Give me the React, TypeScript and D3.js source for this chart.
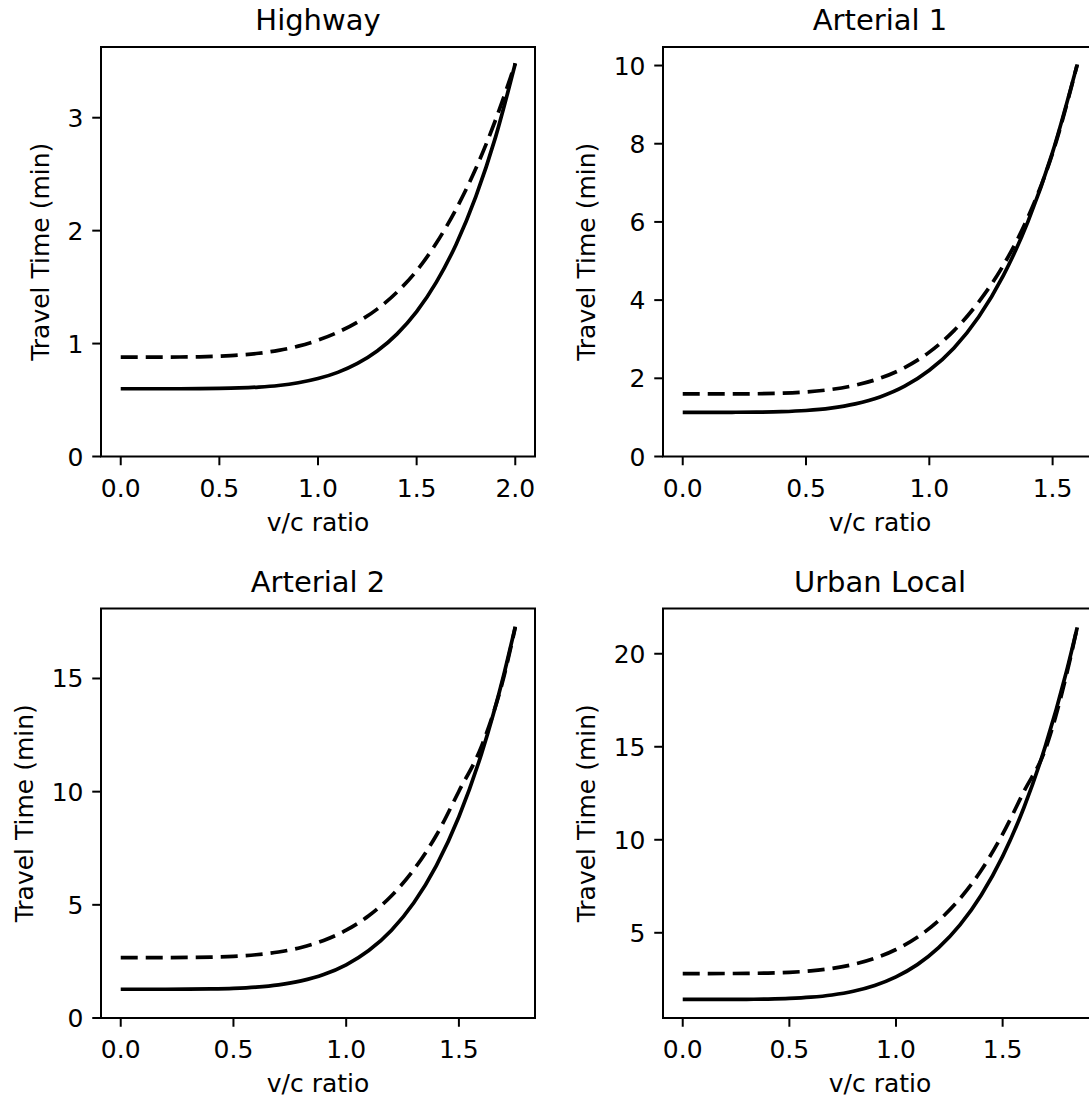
import React from 'react';
import * as d3 from 'd3';

// ---------- data ----------
const panelTitles = ['Highway', 'Arterial 1', 'Arterial 2', 'Urban Local'];

const highwayX = [0, 0.1, 0.2, 0.3, 0.4, 0.5, 0.6, 0.7, 0.8, 0.9, 1.0, 1.1, 1.2, 1.3, 1.4, 1.5, 1.6, 1.7, 1.8, 1.9, 2.0];
const highwaySolid = [0.6, 0.6, 0.6, 0.6, 0.601, 0.603, 0.607, 0.615, 0.629, 0.653, 0.69, 0.745, 0.824, 0.934, 1.084, 1.283, 1.544, 1.878, 2.301, 2.828, 3.48];
const highwayDashed = [0.88, 0.88, 0.88, 0.881, 0.883, 0.889, 0.898, 0.914, 0.94, 0.977, 1.03, 1.1, 1.19, 1.305, 1.455, 1.645, 1.89, 2.19, 2.55, 2.98, 3.482];

const arterial1X = [0, 0.1, 0.2, 0.3, 0.4, 0.5, 0.6, 0.7, 0.8, 0.9, 1.0, 1.1, 1.2, 1.3, 1.4, 1.5, 1.6];
const arterial1Solid = [1.13, 1.13, 1.131, 1.135, 1.147, 1.177, 1.238, 1.346, 1.523, 1.798, 2.204, 2.778, 3.568, 4.626, 6.009, 7.786, 10.029];
const arterial1Dashed = [1.6, 1.6, 1.601, 1.605, 1.619, 1.651, 1.714, 1.824, 2.002, 2.274, 2.67, 3.22, 3.95, 4.89, 6.12, 7.76, 10.027];

const arterial2X = [0, 0.1, 0.2, 0.3, 0.4, 0.5, 0.6, 0.7, 0.8, 0.9, 1.0, 1.1, 1.2, 1.3, 1.4, 1.5, 1.6, 1.7, 1.75];
const arterial2Solid = [1.27, 1.27, 1.27, 1.273, 1.283, 1.308, 1.362, 1.463, 1.638, 1.92, 2.35, 2.979, 3.869, 5.093, 6.735, 8.891, 11.671, 15.201, 17.291];
const arterial2Dashed = [2.67, 2.67, 2.671, 2.676, 2.69, 2.725, 2.795, 2.917, 3.118, 3.427, 3.88, 4.518, 5.393, 6.557, 8.076, 10.019, 12.0, 15.1, 17.263];

const urbanX = [0, 0.1, 0.2, 0.3, 0.4, 0.5, 0.6, 0.7, 0.8, 0.9, 1.0, 1.1, 1.2, 1.3, 1.4, 1.5, 1.6, 1.7, 1.8, 1.85];
const urbanSolid = [1.42, 1.42, 1.421, 1.425, 1.439, 1.471, 1.538, 1.658, 1.857, 2.168, 2.63, 3.288, 4.198, 5.422, 7.032, 9.106, 11.736, 15.02, 19.07, 21.421];
const urbanDashed = [2.81, 2.81, 2.811, 2.817, 2.834, 2.874, 2.95, 3.084, 3.3, 3.626, 4.1, 4.761, 5.656, 6.838, 8.365, 10.305, 12.6, 14.85, 18.9, 21.432];

const highwayYTicks = [0, 1, 2, 3];
const arterial1YTicks = [0, 2, 4, 6, 8, 10];
const arterial2YTicks = [0, 5, 10, 15];
const urbanYTicks = [5, 10, 15, 20];

const highwayXTicks = [0, 0.5, 1.0, 1.5, 2.0];
const arterialXTicks = [0, 0.5, 1.0, 1.5];

const yFloorAtZero = [true, true, true, false];

const xLabel = 'v/c ratio';
const yLabel = 'Travel Time (min)';

// ---------- layout ----------
const W = 1089;
const H = 1099;
const colLeft = [101, 663];
const rowTop = [47, 608.5];
const AX_W = 434;
const AX_H = 409.5;
const FONT = '"DejaVu Sans", sans-serif';
const TICK_FS = 25;
const TITLE_FS = 29;

type PanelData = {
  title: string;
  xs: number[];
  solid: number[];
  dashed: number[];
  yTicks: number[];
  xTicks: number[];
  floorZero: boolean;
};

const panels: PanelData[] = [
  { title: panelTitles[0], xs: highwayX, solid: highwaySolid, dashed: highwayDashed, yTicks: highwayYTicks, xTicks: highwayXTicks, floorZero: yFloorAtZero[0] },
  { title: panelTitles[1], xs: arterial1X, solid: arterial1Solid, dashed: arterial1Dashed, yTicks: arterial1YTicks, xTicks: arterialXTicks, floorZero: yFloorAtZero[1] },
  { title: panelTitles[2], xs: arterial2X, solid: arterial2Solid, dashed: arterial2Dashed, yTicks: arterial2YTicks, xTicks: arterialXTicks, floorZero: yFloorAtZero[2] },
  { title: panelTitles[3], xs: urbanX, solid: urbanSolid, dashed: urbanDashed, yTicks: urbanYTicks, xTicks: arterialXTicks, floorZero: yFloorAtZero[3] },
];

function Panel({ p, idx }: { p: PanelData; idx: number }) {
  const left = colLeft[idx % 2];
  const top = rowTop[Math.floor(idx / 2)];
  const bottom = top + AX_H;
  const right = left + AX_W;

  const xMin = d3.min(p.xs) as number;
  const xMax = d3.max(p.xs) as number;
  const xPad = 0.05 * (xMax - xMin);
  const allY = p.solid.concat(p.dashed);
  const yMinD = d3.min(allY) as number;
  const yMaxD = d3.max(allY) as number;
  const yPad = 0.05 * (yMaxD - yMinD);

  const x = d3.scaleLinear().domain([xMin - xPad, xMax + xPad]).range([left, right]);
  const y = d3
    .scaleLinear()
    .domain([p.floorZero ? 0 : yMinD - yPad, yMaxD + yPad])
    .range([bottom, top]);

  const mk = (vals: number[]) =>
    d3
      .line<number>()
      .x((_, i) => x(p.xs[i]))
      .y((d) => y(d))
      .curve(d3.curveMonotoneX)(vals) as string;

  const fmtX = d3.format('.1f');
  const fmtY = d3.format('d');
  const maxChars = d3.max(p.yTicks, (t) => fmtY(t).length) as number;
  const yLabelX = left - (17.5 + maxChars * 15.9 + 10 + 9);
  const clipId = `clip-${idx}`;

  return (
    <g>
      <defs>
        <clipPath id={clipId}>
          <rect x={left} y={top} width={AX_W} height={AX_H} />
        </clipPath>
      </defs>
      <g clipPath={`url(#${clipId})`} fill="none" stroke="#000" strokeWidth={3.7}>
        <path d={mk(p.dashed)} strokeDasharray="17,8" />
        <path d={mk(p.solid)} />
      </g>
      <rect x={left} y={top} width={AX_W} height={AX_H} fill="none" stroke="#000" strokeWidth={2} />
      {p.xTicks.map((t) => (
        <g key={`x${t}`}>
          <line x1={x(t)} x2={x(t)} y1={bottom} y2={bottom + 8.75} stroke="#000" strokeWidth={2} />
          <text x={x(t)} y={bottom + 40} textAnchor="middle" fontSize={TICK_FS} fontFamily={FONT} fill="#000">
            {fmtX(t)}
          </text>
        </g>
      ))}
      {p.yTicks.map((t) => (
        <g key={`y${t}`}>
          <line x1={left - 8.75} x2={left} y1={y(t)} y2={y(t)} stroke="#000" strokeWidth={2} />
          <text x={left - 17.5} y={y(t) + 9} textAnchor="end" fontSize={TICK_FS} fontFamily={FONT} fill="#000">
            {fmtY(t)}
          </text>
        </g>
      ))}
      <text x={(left + right) / 2} y={bottom + 74} textAnchor="middle" fontSize={TICK_FS} fontFamily={FONT} fill="#000">
        {xLabel}
      </text>
      <text
        transform={`translate(${yLabelX},${(top + bottom) / 2}) rotate(-90)`}
        textAnchor="middle"
        fontSize={TICK_FS}
        fontFamily={FONT}
        fill="#000"
      >
        {yLabel}
      </text>
      <text x={(left + right) / 2} y={top - 17} textAnchor="middle" fontSize={TITLE_FS} fontFamily={FONT} fill="#000">
        {p.title}
      </text>
    </g>
  );
}

export default function App() {
  return (
    <svg
      width={W}
      height={H}
      viewBox={`0 0 ${W} ${H}`}
      style={{ position: 'absolute', left: 0, top: 0, background: '#fff' }}
    >
      <rect x={0} y={0} width={W} height={H} fill="#fff" />
      {panels.map((p, i) => (
        <Panel key={p.title} p={p} idx={i} />
      ))}
    </svg>
  );
}
